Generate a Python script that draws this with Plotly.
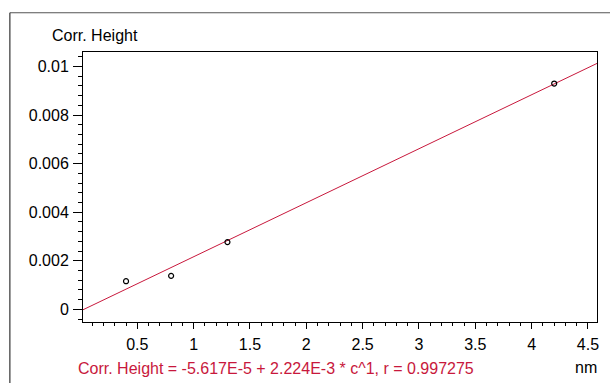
import plotly.graph_objects as go

# ---- data ----
conc = [0.4, 0.8, 1.3, 4.2]
corr_height = [0.00116, 0.00138, 0.00277, 0.00930]
fit_intercept = -5.617e-5
fit_slope = 2.224e-3
x_range = [0.018, 4.58]
y_range = [-0.00052, 0.0106]
x_tickvals = [0.5, 1, 1.5, 2, 2.5, 3, 3.5, 4, 4.5]
x_ticktext = ["0.5", "1", "1.5", "2", "2.5", "3", "3.5", "4", "4.5"]
y_tickvals = [0, 0.002, 0.004, 0.006, 0.008, 0.01]
y_ticktext = ["0", "0.002", "0.004", "0.006", "0.008", "0.01"]
equation = "Corr. Height = -5.617E-5 + 2.224E-3 * c^1, r = 0.997275"

W, H = 610, 383
ML, MR, MT, MB = 82.5, 13, 52, 60.5
PW, PH = W - ML - MR, H - MT - MB
FONT = "Liberation Sans, Arial, Helvetica, sans-serif"
FS = 16
RED = "#c8183c"

def px(x):
    return (x - ML) / PW

def py(y):
    return (H - MB - y) / PH

fit_x = [x_range[0], x_range[1]]
fit_y = [fit_intercept + fit_slope * v for v in fit_x]

fig = go.Figure()
fig.add_trace(go.Scatter(x=fit_x, y=fit_y, mode="lines",
                         line=dict(color=RED, width=1), hoverinfo="skip"))
fig.add_trace(go.Scatter(x=conc, y=corr_height, mode="markers",
                         marker=dict(symbol="circle-open", size=5, color="black",
                                     line=dict(width=1.2, color="black"))))

axis_common = dict(showgrid=False, zeroline=False, showline=True, linecolor="black",
                   linewidth=1, mirror=True, ticks="outside", tickcolor="black",
                   tickwidth=1, tickfont=dict(family=FONT, size=FS, color="black"))

fig.update_xaxes(range=x_range, tickmode="array", tickvals=x_tickvals, ticktext=x_ticktext,
                 ticklen=6, ticklabelstandoff=2,
                 minor=dict(dtick=0.1, tick0=0, ticklen=3, ticks="outside",
                            tickcolor="black", tickwidth=1, showgrid=False),
                 **axis_common)
fig.update_yaxes(range=y_range, tickmode="array", tickvals=y_tickvals, ticktext=y_ticktext,
                 ticklen=9, ticklabelstandoff=1,
                 minor=dict(dtick=0.0004, tick0=0, ticklen=4, ticks="outside",
                            tickcolor="black", tickwidth=1, showgrid=False),
                 **axis_common)

shapes = [
    dict(type="line", xref="paper", yref="paper", x0=px(9.3), x1=px(W + 5),
         y0=py(12.7), y1=py(12.7), line=dict(color="#555555", width=1.2)),
    dict(type="line", xref="paper", yref="paper", x0=px(9.3), x1=px(9.3),
         y0=py(12.7), y1=py(H + 5), line=dict(color="#333333", width=1.2)),
]

annotations = [
    dict(text="Corr. Height", xref="paper", yref="paper", x=px(49), y=py(35),
         xanchor="left", yanchor="middle", showarrow=False,
         font=dict(family=FONT, size=FS, color="black")),
    dict(text=equation, xref="paper", yref="paper", x=px(75), y=py(369),
         xanchor="left", yanchor="middle", showarrow=False,
         font=dict(family=FONT, size=FS, color=RED)),
    dict(text="nm", xref="paper", yref="paper", x=px(599), y=py(368),
         xanchor="right", yanchor="middle", showarrow=False,
         font=dict(family=FONT, size=FS, color="black")),
]

fig.update_layout(width=W, height=H, margin=dict(l=ML, r=MR, t=MT, b=MB),
                  paper_bgcolor="white", plot_bgcolor="white", showlegend=False,
                  shapes=shapes, annotations=annotations,
                  font=dict(family=FONT, size=FS))

fig.write_html("out.html", config={"displayModeBar": False},
               post_script="document.body.style.margin='0';document.body.style.padding='0';")
